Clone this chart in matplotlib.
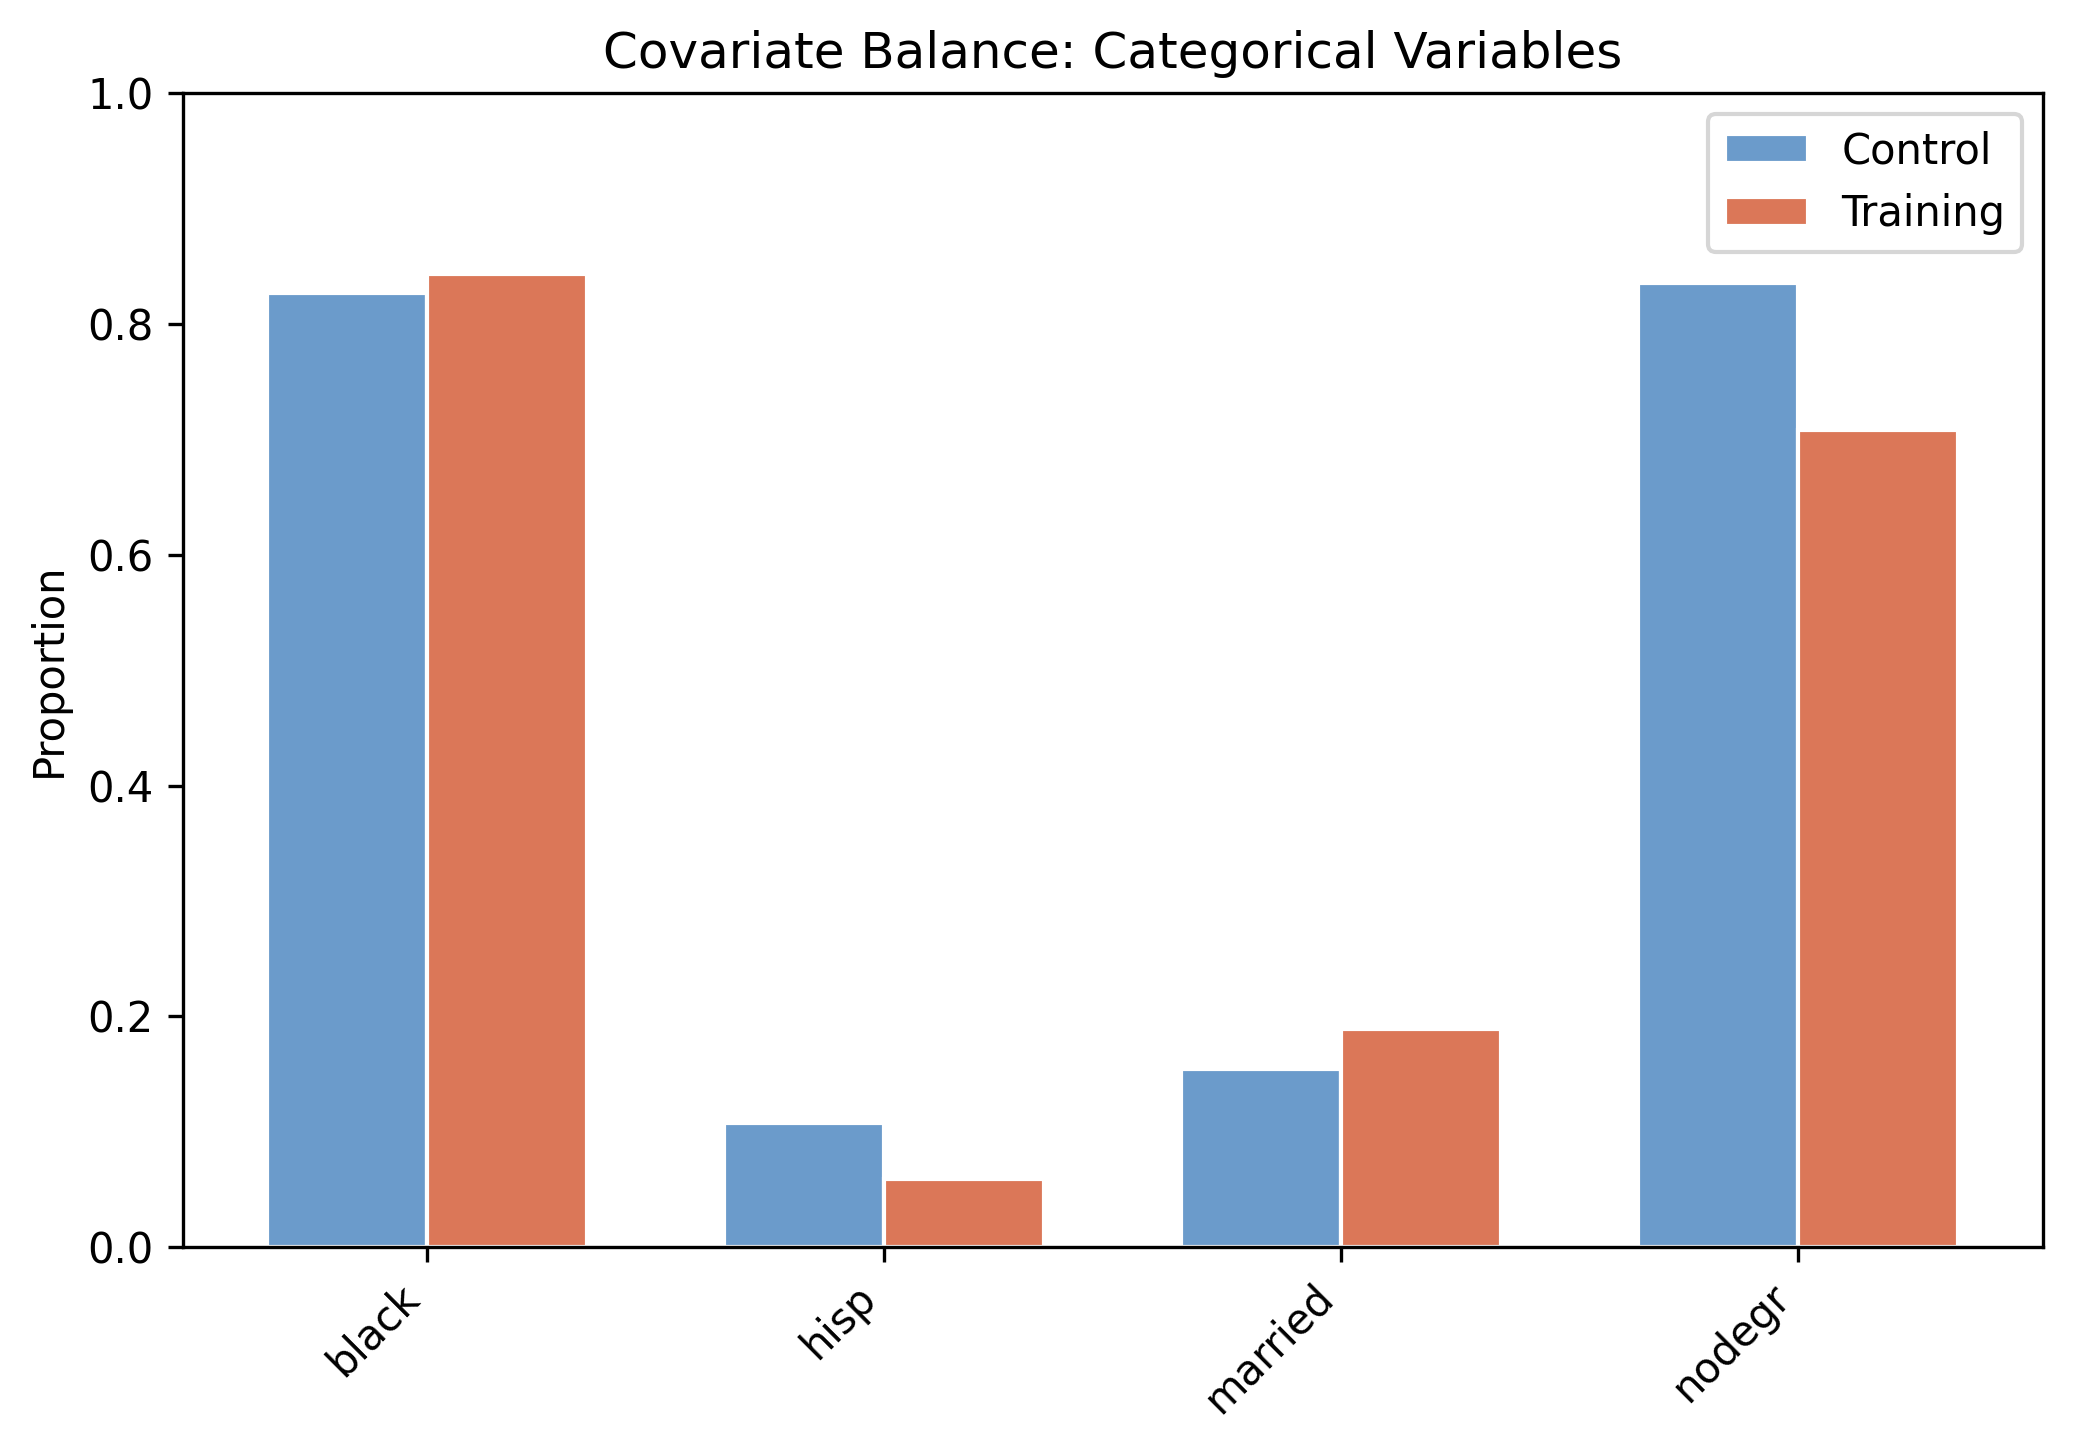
import matplotlib
matplotlib.use("Agg")
import matplotlib.pyplot as plt
import numpy as np

categories = ["black", "hisp", "married", "nodegr"]
control = [0.827, 0.108, 0.154, 0.835]
training = [0.843, 0.059, 0.189, 0.708]

c_blue = "#6b9bcb"
c_orange = "#db7758"

fig = plt.figure(figsize=(2074/300, 1452/300), dpi=300)
ax = fig.add_subplot(111)
fig.subplots_adjust(left=0.088, right=0.985, bottom=0.141, top=0.936)

x = np.arange(len(categories))
w = 0.35
ax.bar(x - w/2, control, w, color=c_blue, edgecolor="white", linewidth=1, label="Control")
ax.bar(x + w/2, training, w, color=c_orange, edgecolor="white", linewidth=1, label="Training")

ax.set_xticks(x)
ax.set_xticklabels(categories, rotation=45, ha="right")
ax.set_ylim(0, 1.0)
ax.set_ylabel("Proportion")
ax.set_title("Covariate Balance: Categorical Variables", fontsize=12)
ax.legend(loc="upper right")

fig.savefig("out.png", dpi=300)
